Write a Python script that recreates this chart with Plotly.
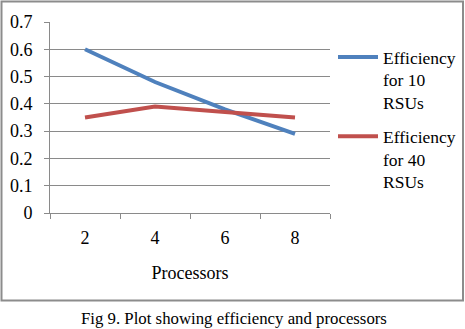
import plotly.graph_objects as go

processors = ["2", "4", "6", "8"]
eff_10 = [0.60, 0.48, 0.38, 0.29]
eff_40 = [0.35, 0.39, 0.37, 0.35]
names = ["Efficiency<br>for 10<br>RSUs", "Efficiency<br>for 40<br>RSUs"]
colors = ["#4F81BD", "#C0504D"]
y_ticks = [0, 0.1, 0.2, 0.3, 0.4, 0.5, 0.6, 0.7]
caption = "Fig 9. Plot showing efficiency and processors"

W, H = 465, 329
L, R, T, B = 50, 135, 22, 116
pw, ph = W - L - R, H - T - B

def px_x(px):
    return (px - L) / pw

def px_y(py):
    return (H - B - py) / ph

font = "Liberation Serif"
grid = "#8a8a8a"

fig = go.Figure()
for i, (vals, nm, c) in enumerate(zip([eff_10, eff_40], names, colors)):
    fig.add_trace(go.Scatter(x=processors, y=vals, mode="lines", name=nm,
                             legendgroup=f"g{i}",
                             line=dict(color=c, width=4)))

fig.update_layout(
    width=W, height=H,
    margin=dict(l=L, r=R, t=T, b=B, autoexpand=False),
    paper_bgcolor="white", plot_bgcolor="white",
    font=dict(family=font, size=18, color="black"),
    showlegend=True,
    legend=dict(x=px_x(333), y=px_y(39), xanchor="left", yanchor="top",
                valign="top", tracegroupgap=8, itemwidth=40,
                font=dict(family=font, size=17.5, color="black"),
                bgcolor="rgba(0,0,0,0)"),
    xaxis=dict(type="category", tickson="boundaries", ticks="outside", ticklen=5,
               tickcolor=grid, showline=True, linecolor=grid, linewidth=1,
               showgrid=False, range=[-0.5, 3.5], ticklabelstandoff=8,
               title=dict(text="Processors", standoff=19,
                          font=dict(family=font, size=18))),
    yaxis=dict(range=[0, 0.7], tickvals=y_ticks, ticktext=[f"{v:g}" for v in y_ticks],
               ticks="outside", ticklen=5, tickcolor=grid, showline=True,
               linecolor=grid, linewidth=1, showgrid=True, gridcolor=grid,
               gridwidth=1, zeroline=False, ticklabelstandoff=8),
)

fig.add_shape(type="rect", xref="paper", yref="paper",
              x0=px_x(1.5), x1=px_x(463), y0=px_y(300.5), y1=px_y(1.5),
              line=dict(color="#8c8c8c", width=2), layer="below")

fig.add_annotation(text=caption, xref="paper", yref="paper",
                   x=px_x(234), y=px_y(318), xanchor="center", yanchor="middle",
                   showarrow=False, font=dict(family=font, size=16.8, color="black"))

fig.write_html("out.html", config={"displayModeBar": False},
               post_script="document.body.style.margin='0';document.body.style.overflow='hidden';")
